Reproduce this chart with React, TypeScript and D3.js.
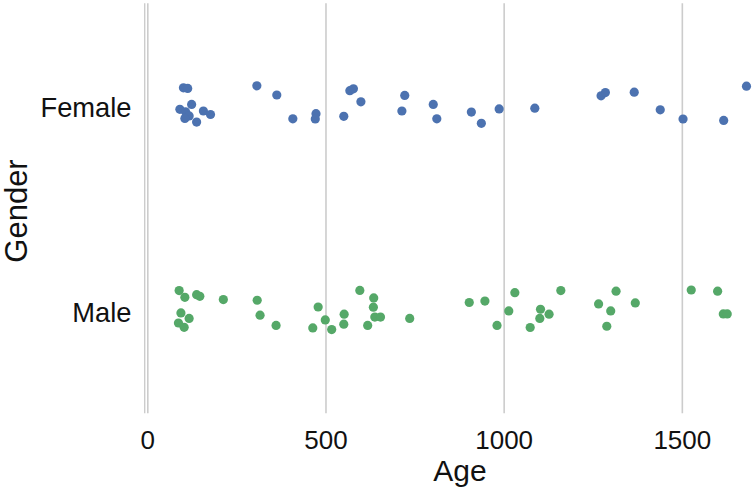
import React from "react";
import * as d3 from "d3";

const categories = ["Female", "Male"];
const femaleAge = [100, 112, 90, 123, 106, 116, 104, 137, 156, 176, 306, 362, 407, 472, 470, 550, 567, 577, 598, 721, 713, 801, 811, 908, 936, 986, 1086, 1272, 1284, 1365, 1438, 1502, 1616, 1680];
const femaleJitter = [-0.091, -0.088, 0.014, -0.01, 0.026, 0.046, 0.058, 0.076, 0.022, 0.039, -0.101, -0.056, 0.06, 0.035, 0.061, 0.048, -0.077, -0.086, -0.023, -0.054, 0.022, -0.01, 0.06, 0.027, 0.082, 0.012, 0.008, -0.052, -0.068, -0.07, 0.016, 0.061, 0.068, -0.099];
const maleAge = [88, 104, 137, 146, 93, 116, 86, 102, 212, 307, 315, 360, 478, 463, 498, 516, 551, 550, 595, 634, 633, 637, 653, 617, 735, 902, 946, 980, 1030, 1013, 1102, 1100, 1126, 1073, 1159, 1314, 1265, 1299, 1368, 1288, 1525, 1599, 1615, 1626];
const maleJitter = [-0.102, -0.069, -0.082, -0.074, 0.007, 0.034, 0.056, 0.077, -0.058, -0.055, 0.018, 0.068, -0.022, 0.08, 0.041, 0.088, 0.013, 0.062, -0.103, -0.066, -0.021, 0.027, 0.027, 0.068, 0.034, -0.044, -0.051, 0.068, -0.092, -0.003, -0.011, 0.034, 0.013, 0.078, -0.102, -0.099, -0.037, -0.003, -0.042, 0.072, -0.105, -0.099, 0.012, 0.012];
const xTicks = [0, 500, 1000, 1500];
const colors = ["#4c72b0", "#55a868"];

const W = 755;
const H = 493;
const FONT = "'Liberation Sans', Arial, sans-serif";

export default function App() {
  const x = d3.scaleLinear().domain([-8.7, 1746]).range([144.7, 770]);
  const y = d3.scaleLinear().domain([-0.5, 1.5]).range([4, 414]);
  const top = 3.3;
  const bottom = 413.3;

  const series = [
    { ages: femaleAge, jit: femaleJitter, idx: 0 },
    { ages: maleAge, jit: maleJitter, idx: 1 },
  ];

  return (
    <svg
      width={W}
      height={H}
      style={{ position: "absolute", left: 0, top: 0, background: "#fff" }}
      fontFamily={FONT}
    >
      <rect x={0} y={0} width={W} height={H} fill="#fff" />
      {/* left spine */}
      <line x1={x(-8.7)} x2={x(-8.7)} y1={top} y2={bottom} stroke="#cccccc" strokeWidth={1.4} />
      {xTicks.map((t) => (
        <g key={t}>
          <line x1={x(t)} x2={x(t)} y1={top} y2={bottom} stroke="#cccccc" strokeWidth={1.6} />
          <text x={x(t)} y={448.5} fontSize={26} textAnchor="middle" fill="#111">
            {t}
          </text>
        </g>
      ))}
      {categories.map((c, i) => (
        <text key={c} x={131.5} y={y(i) + 0.8} fontSize={27.3} textAnchor="end" dominantBaseline="central" fill="#111">
          {c}
        </text>
      ))}
      {series.map((s) =>
        s.ages.map((a, j) => (
          <circle key={`${s.idx}-${j}`} cx={x(a)} cy={y(s.idx + s.jit[j])} r={4.6} fill={colors[s.idx]} />
        ))
      )}
      <text x={460} y={480.5} fontSize={30} textAnchor="middle" fill="#111">
        Age
      </text>
      <text
        transform={`translate(26.5,211) rotate(-90)`}
        fontSize={31}
        textAnchor="middle"
        fill="#111"
      >
        Gender
      </text>
    </svg>
  );
}
